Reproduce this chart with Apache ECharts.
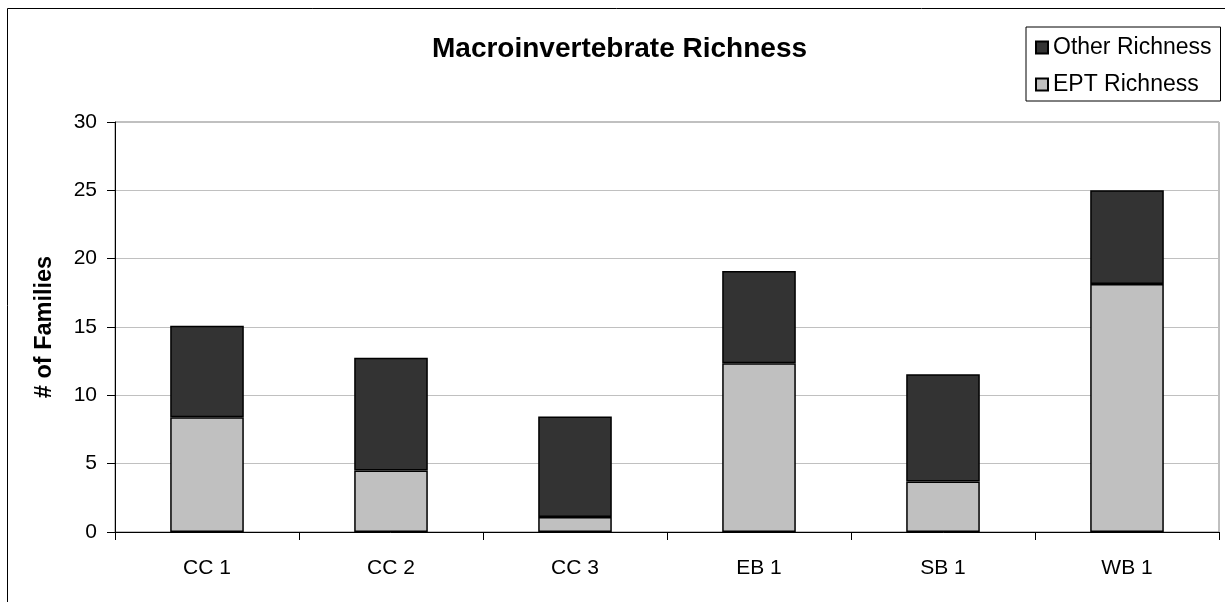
<!DOCTYPE html>
<html>
<head>
<meta charset="utf-8">
<script src="https://cdn.jsdelivr.net/npm/echarts@6/dist/echarts.min.js"></script>
<style>
  html, body { margin: 0; padding: 0; background: #fff; }
  #chart { width: 1225px; height: 602px; }
</style>
</head>
<body>
<div id="chart"></div>
<script>
// sites on the x axis
const sites = ['CC 1', 'CC 2', 'CC 3', 'EB 1', 'SB 1', 'WB 1']
// stacked values (# of families)
const eptRichness = [8.4, 4.5, 1.1, 12.35, 3.7, 18.15]
const otherRichness = [6.7, 8.25, 7.35, 6.75, 7.85, 6.85]
const yTicks = { min: 0, max: 30, interval: 5 }

const font = 'Arial, "Liberation Sans", sans-serif'
const dom = echarts.init(document.getElementById('chart'))

const option = {
  backgroundColor: '#fff',
  animation: false,
  title: {
    text: 'Macroinvertebrate Richness',
    left: 432,
    top: 35,
    padding: 0,
    textStyle: {
      fontFamily: font,
      fontSize: 28,
      fontWeight: 'bold',
      color: '#000'
    }
  },
  legend: {
    data: ['Other Richness', 'EPT Richness'],
    orient: 'vertical',
    left: 1026,
    top: 27,
    padding: [9, 9, 5, 9],
    itemGap: 14,
    itemWidth: 12,
    itemHeight: 12,
    icon: 'rect',
    borderColor: '#000',
    borderWidth: 1,
    textStyle: {
      fontFamily: font,
      fontSize: 23,
      color: '#000'
    }
  },
  grid: {
    left: 115,
    top: 122,
    right: 6,
    bottom: 70,
    show: true,
    borderColor: '#808080',
    borderWidth: 1,
    containLabel: false
  },
  xAxis: {
    type: 'category',
    data: sites,
    axisLine: { lineStyle: { color: '#000', width: 1 } },
    axisTick: { show: true, length: 8, lineStyle: { color: '#000' } },
    axisLabel: {
      margin: 26,
      fontFamily: font,
      fontSize: 21,
      color: '#000'
    },
    splitLine: { show: false }
  },
  yAxis: {
    type: 'value',
    min: yTicks.min,
    max: yTicks.max,
    interval: yTicks.interval,
    name: '# of Families',
    nameLocation: 'middle',
    nameRotate: 90,
    nameGap: 58,
    nameTextStyle: {
      fontFamily: font,
      fontSize: 23.5,
      fontWeight: 'bold',
      color: '#000'
    },
    axisLine: { show: true, lineStyle: { color: '#000', width: 1 } },
    axisTick: { show: true, length: 8, lineStyle: { color: '#000' } },
    axisLabel: {
      margin: 18,
      fontFamily: font,
      fontSize: 21,
      color: '#000'
    },
    splitLine: { show: true, lineStyle: { color: '#c0c0c0', width: 1 } }
  },
  series: [
    {
      name: 'EPT Richness',
      type: 'bar',
      stack: 'total',
      barWidth: '40%',
      data: eptRichness,
      itemStyle: { color: '#c0c0c0', borderColor: '#000', borderWidth: 1.5 }
    },
    {
      name: 'Other Richness',
      type: 'bar',
      stack: 'total',
      barWidth: '40%',
      data: otherRichness,
      itemStyle: { color: '#333333', borderColor: '#000', borderWidth: 1.5 }
    }
  ],
  graphic: [{
    type: 'rect',
    silent: true,
    z: -1,
    shape: { x: 7.5, y: 8.5, width: 1400, height: 800 },
    style: { fill: 'none', stroke: '#000', lineWidth: 1 }
  }]
}

dom.setOption(option)
window.addEventListener('resize', () => dom.resize())
</script>
</body>
</html>
